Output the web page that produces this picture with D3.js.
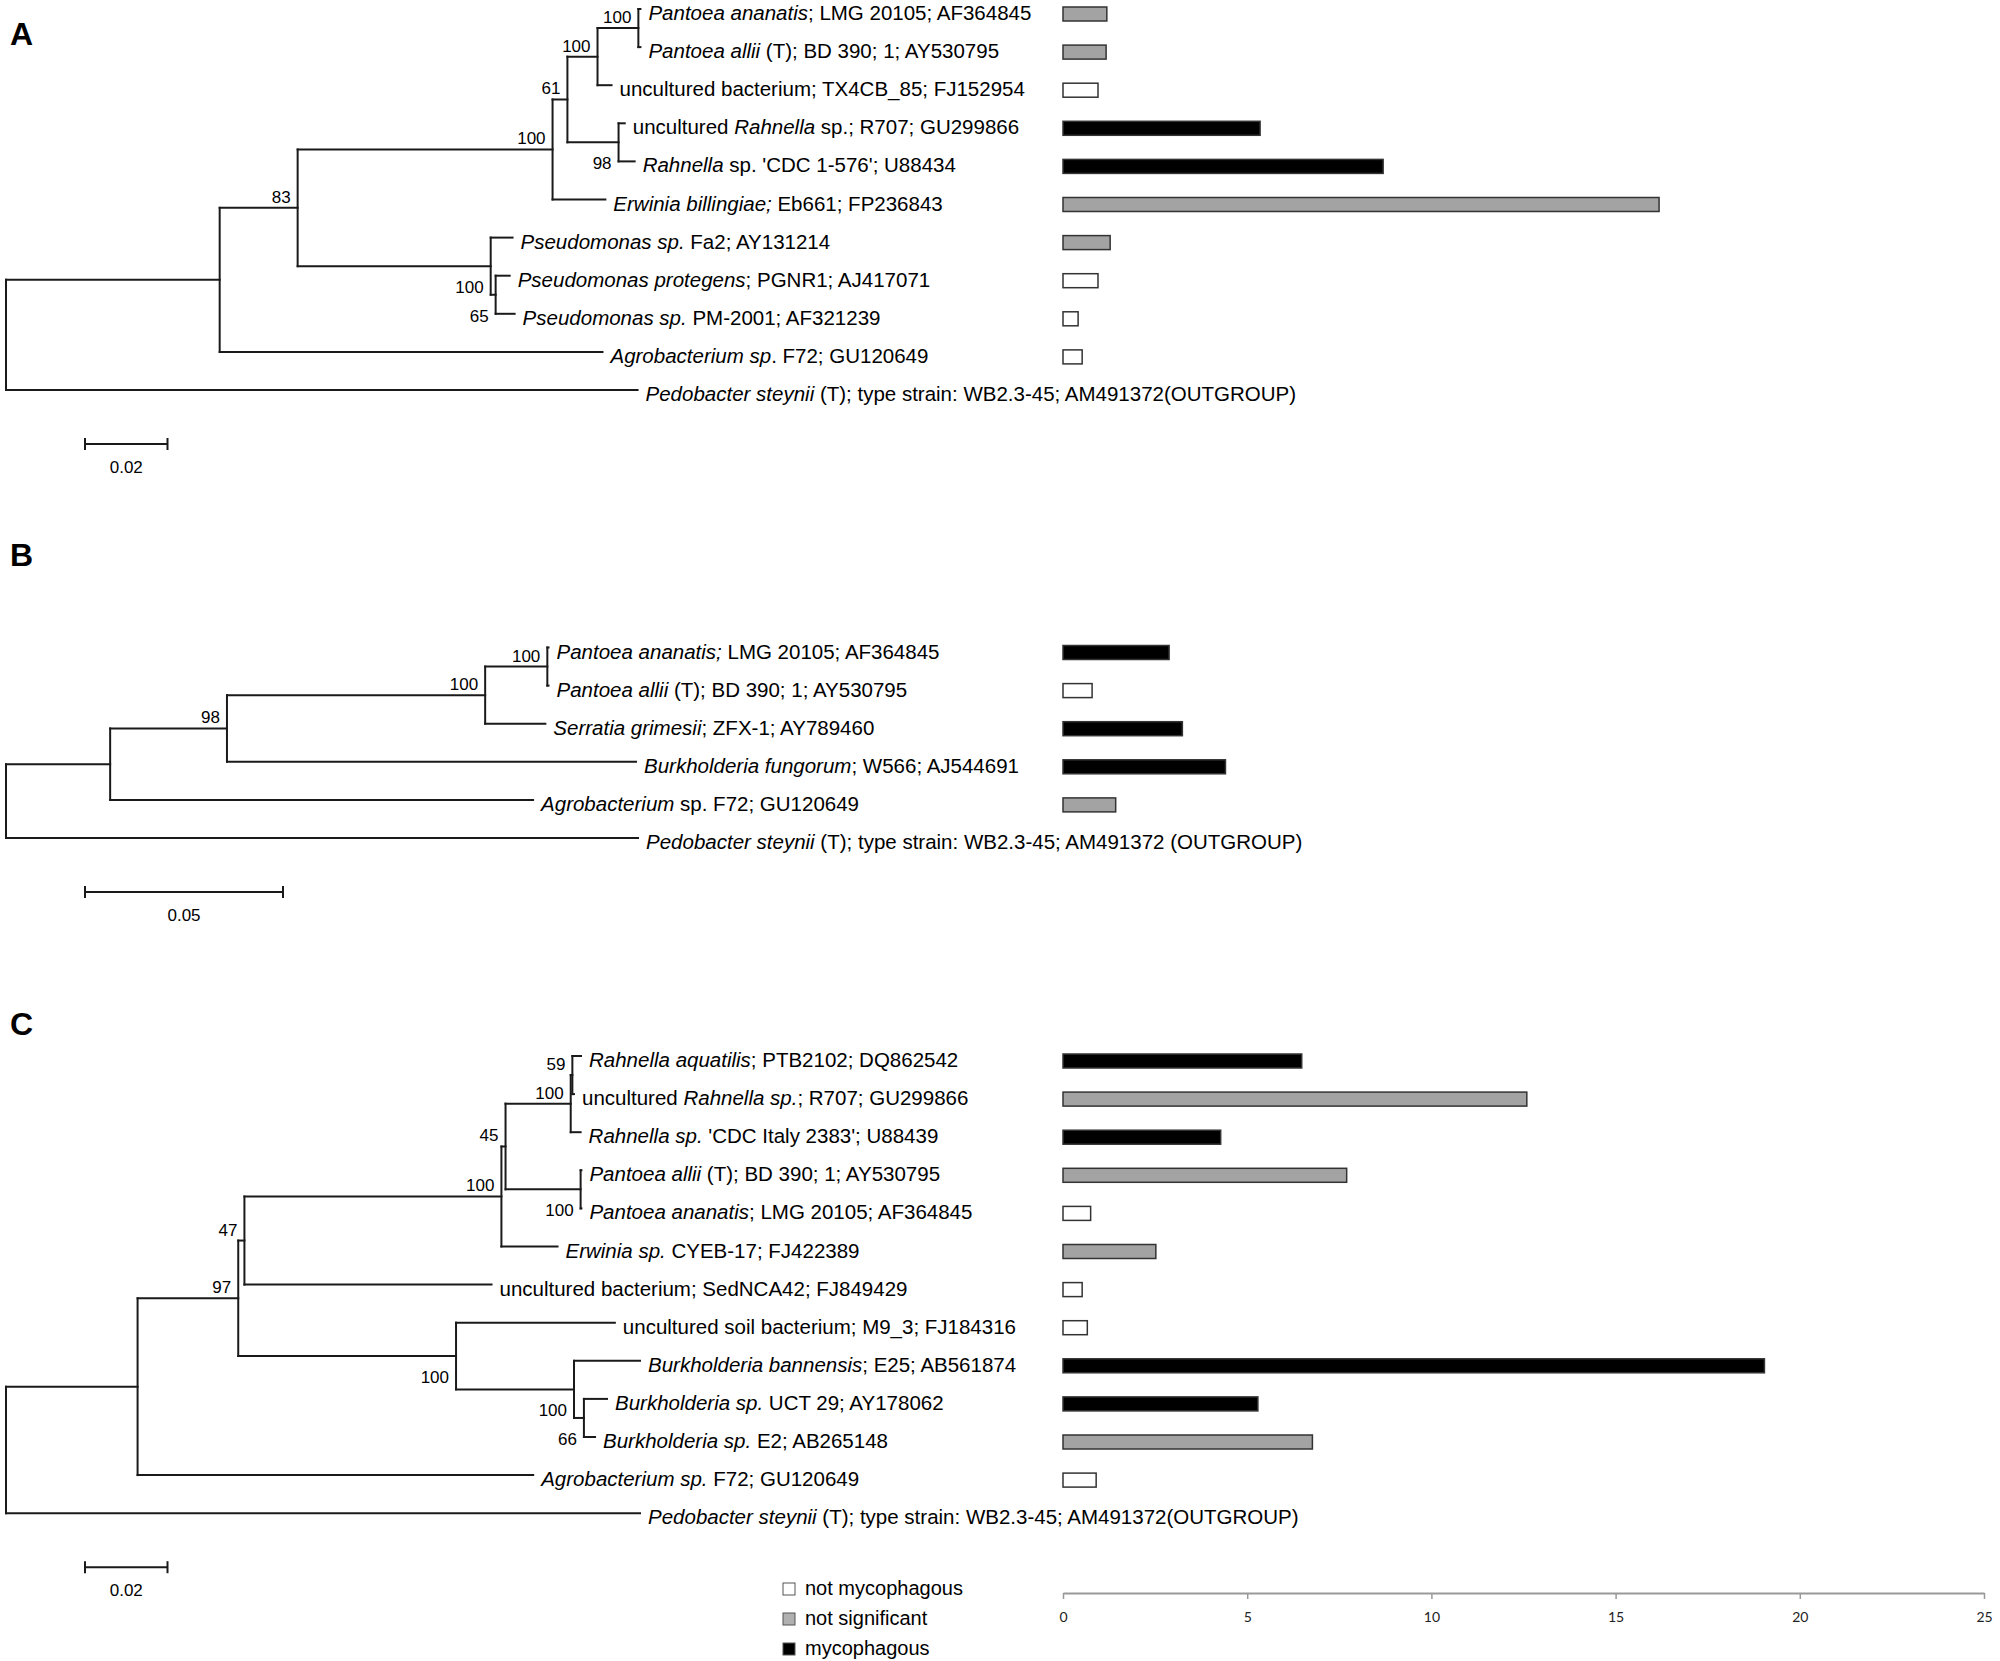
<!DOCTYPE html>
<html>
<head>
<meta charset="utf-8">
<style>
  body { margin: 0; background: #fff; }
  svg { display: block; font-family: "Liberation Sans", Arial, sans-serif; }
  text { white-space: pre; }
</style>
</head>
<body>
<svg width="2000" height="1661"></svg>
<script src="https://d3js.org/d3.v7.min.js"></script>
<script>
// trees in newick form: tips are row numbers, internal labels are bootstrap values
var treeA = "(((((((0:0.0005,1:0.0005)100:0.0099,2:0.0034)100:0.0073,(3:0.0015,4:0.0039)98:0.0124)61:0.0036,5:0.0128)100:0.0618,(6:0.0053,(7:0.0034,8:0.0046)65:0.0012)100:0.0468)83:0.0189,9:0.0928):0.0518,10:0.1531);";
var treeB = "(((((0:0.0003,1:0.0003)100:0.0157,2:0.0152)100:0.0652,3:0.1033)98:0.0295,4:0.1068):0.0263,5:0.1596);";
var treeC = "((((((((0:0.0021,1:0.0004)59:0.0004,2:0.0024)100:0.0158,(3:0.0002,4:0.0002)100:0.0182)45:0.0010,5:0.0136)100:0.0623,6:0.0599)47:0.0015,(7:0.0385,(8:0.0160,(9:0.0056,10:0.0027)66:0.0024)100:0.0286)100:0.0528)97:0.0244,11:0.0959):0.0319,12:0.1537);";

var labelsA = [
  "<i>Pantoea ananatis</i>; LMG 20105; AF364845",
  "<i>Pantoea allii</i> (T); BD 390; 1; AY530795",
  "uncultured bacterium; TX4CB_85; FJ152954",
  "uncultured <i>Rahnella</i> sp.; R707; GU299866",
  "<i>Rahnella</i> sp. 'CDC 1-576'; U88434",
  "<i>Erwinia billingiae;</i> Eb661; FP236843",
  "<i>Pseudomonas sp.</i> Fa2; AY131214",
  "<i>Pseudomonas protegens</i>; PGNR1; AJ417071",
  "<i>Pseudomonas sp.</i> PM-2001; AF321239",
  "<i>Agrobacterium sp</i>. F72; GU120649",
  "<i>Pedobacter steynii</i> (T); type strain: WB2.3-45; AM491372(OUTGROUP)"
];
var labelsB = [
  "<i>Pantoea ananatis;</i> LMG 20105; AF364845",
  "<i>Pantoea allii</i> (T); BD 390; 1; AY530795",
  "<i>Serratia grimesii</i>; ZFX-1; AY789460",
  "<i>Burkholderia fungorum</i>; W566; AJ544691",
  "<i>Agrobacterium</i> sp. F72; GU120649",
  "<i>Pedobacter steynii</i> (T); type strain: WB2.3-45; AM491372 (OUTGROUP)"
];
var labelsC = [
  "<i>Rahnella aquatilis</i>; PTB2102; DQ862542",
  "uncultured <i>Rahnella sp.</i>; R707; GU299866",
  "<i>Rahnella sp.</i> 'CDC Italy 2383'; U88439",
  "<i>Pantoea allii</i> (T); BD 390; 1; AY530795",
  "<i>Pantoea ananatis</i>; LMG 20105; AF364845",
  "<i>Erwinia sp.</i> CYEB-17; FJ422389",
  "uncultured bacterium; SedNCA42; FJ849429",
  "uncultured soil bacterium; M9_3; FJ184316",
  "<i>Burkholderia bannensis</i>; E25; AB561874",
  "<i>Burkholderia sp.</i> UCT 29; AY178062",
  "<i>Burkholderia sp.</i> E2; AB265148",
  "<i>Agrobacterium sp.</i> F72; GU120649",
  "<i>Pedobacter steynii</i> (T); type strain: WB2.3-45; AM491372(OUTGROUP)"
];

// bar values and class (0 not mycophagous, 1 not significant, 2 mycophagous)
var valuesA = [1.19, 1.17, 0.95, 5.35, 8.69, 16.18, 1.28, 0.95, 0.41, 0.52, null];
var classA  = [1, 1, 0, 2, 2, 1, 1, 0, 0, 0, null];
var valuesB = [2.88, 0.79, 3.24, 4.41, 1.43, null];
var classB  = [2, 0, 2, 2, 1, null];
var valuesC = [6.48, 12.59, 4.28, 7.70, 0.75, 2.52, 0.52, 0.66, 19.04, 5.29, 6.77, 0.90, null];
var classC  = [2, 1, 2, 1, 0, 1, 0, 0, 2, 2, 1, 0, null];

var categories = ["not mycophagous", "not significant", "mycophagous"];
var barTicks = [0, 5, 10, 15, 20, 25];

var fills = ["#ffffff", "#a3a3a3", "#000000"];

var svg = d3.select("svg");
var rowStep = 38.1;

var panels = [
  {letter: "A", letterY: 45, tree: treeA, labels: labelsA, values: valuesA, cls: classA, top: 9, unit: 0.02, unitPx: 82.5, unitLabel: "0.02"},
  {letter: "B", letterY: 566, tree: treeB, labels: labelsB, values: valuesB, cls: classB, top: 647.5, unit: 0.05, unitPx: 198, unitLabel: "0.05"},
  {letter: "C", letterY: 1035, tree: treeC, labels: labelsC, values: valuesC, cls: classC, top: 1056, unit: 0.02, unitPx: 82.5, unitLabel: "0.02"}
];

var xb = d3.scaleLinear().domain([0, 25]).range([1063, 1984]);

function parseNewick(s) {
  var i = 0;
  function node() {
    var n = {};
    if (s[i] === "(") {
      n.children = [];
      i++;
      n.children.push(node());
      while (s[i] === ",") { i++; n.children.push(node()); }
      i++;
    }
    var m = /^[^:,();]*/.exec(s.slice(i))[0];
    i += m.length;
    n.name = m;
    n.length = 0;
    if (s[i] === ":") {
      i++;
      var l = /^[0-9.eE-]+/.exec(s.slice(i))[0];
      i += l.length;
      n.length = +l;
    }
    return n;
  }
  return node();
}

function richText(sel, str) {
  str.split(/(<i>.*?<\/i>)/).forEach(function(part) {
    if (!part) return;
    var it = /^<i>(.*)<\/i>$/.exec(part);
    sel.append("tspan")
      .attr("font-style", it ? "italic" : null)
      .text(it ? it[1] : part);
  });
}

panels.forEach(function(p) {
  var g = svg.append("g");
  var n = p.labels.length;
  var x = d3.scaleLinear().domain([0, p.unit]).range([6, 6 + p.unitPx]);
  var y = d3.scaleLinear().domain([0, n - 1]).range([p.top, p.top + (n - 1) * rowStep]);

  g.append("text")
    .attr("x", 10).attr("y", p.letterY)
    .attr("font-size", 32).attr("font-weight", "bold")
    .text(p.letter);

  var root = d3.hierarchy(parseNewick(p.tree));
  root.eachBefore(function(d) { d.dist = d.parent ? d.parent.dist + d.data.length : 0; });
  root.eachAfter(function(d) {
    if (d.children) d.yy = (d.children[0].yy + d.children[d.children.length - 1].yy) / 2;
    else d.yy = y(+d.data.name);
  });

  var lines = g.append("g").attr("stroke", "#1a1a1a").attr("stroke-width", 2).attr("stroke-linecap", "square");
  root.descendants().forEach(function(d) {
    if (d.parent) {
      lines.append("line")
        .attr("x1", x(d.parent.dist)).attr("x2", x(d.dist))
        .attr("y1", d.yy).attr("y2", d.yy);
    }
    if (d.children) {
      lines.append("line")
        .attr("x1", x(d.dist)).attr("x2", x(d.dist))
        .attr("y1", d.children[0].yy).attr("y2", d.children[d.children.length - 1].yy);
    }
  });

  // bootstrap values, on the outer side of the branch
  root.descendants().filter(function(d) { return d.children && d.parent && d.data.name; })
    .forEach(function(d) {
      var first = d.parent.children[0] === d;
      g.append("text")
        .attr("x", x(d.dist) - 7)
        .attr("y", first ? d.yy - 5 : d.yy + 27)
        .attr("text-anchor", "end")
        .attr("font-size", 17)
        .text(d.data.name);
    });

  // tip labels
  root.leaves().forEach(function(d) {
    var t = g.append("text")
      .attr("x", x(d.dist) + 8)
      .attr("y", d.yy + 11)
      .attr("font-size", 20.5);
    richText(t, p.labels[+d.data.name]);
  });

  // bars
  g.selectAll(".bar")
    .data(p.values.map(function(v, i) { return {v: v, c: p.cls[i], i: i}; }).filter(function(d) { return d.v != null; }))
    .enter().append("rect")
      .attr("class", "bar")
      .attr("x", xb(0))
      .attr("y", function(d) { return y(d.i) - 2; })
      .attr("width", function(d) { return xb(d.v) - xb(0); })
      .attr("height", 14)
      .attr("fill", function(d) { return fills[d.c]; })
      .attr("stroke", "#333")
      .attr("stroke-width", 1.5);

  // scale bar
  var sy = y(n - 1) + 54;
  var sb = g.append("g").attr("stroke", "#1a1a1a").attr("stroke-width", 2);
  sb.append("line").attr("x1", x(0) + 79).attr("x2", x(p.unit) + 79).attr("y1", sy).attr("y2", sy);
  [0, p.unit].forEach(function(u) {
    sb.append("line").attr("x1", x(u) + 79).attr("x2", x(u) + 79).attr("y1", sy - 6).attr("y2", sy + 6);
  });
  g.append("text")
    .attr("x", (x(0) + x(p.unit)) / 2 + 79)
    .attr("y", sy + 29)
    .attr("text-anchor", "middle")
    .attr("font-size", 17)
    .text(p.unitLabel);
});

// value axis
var axis = svg.append("g")
  .attr("transform", "translate(0,1593)")
  .call(d3.axisBottom(xb).tickValues(barTicks).tickSize(6).tickSizeOuter(0).tickPadding(13));
axis.select(".domain").attr("stroke", "#999").attr("stroke-width", 2);
axis.selectAll(".tick line").attr("stroke", "#999").attr("stroke-width", 1.5);
axis.selectAll(".tick text").attr("font-family", "Lato, 'Open Sans', sans-serif").attr("font-size", 14).attr("fill", "#222");

// legend
var leg = svg.append("g").attr("transform", "translate(783,1583)");
categories.forEach(function(c, i) {
  var row = leg.append("g").attr("transform", "translate(0," + (i * 30) + ")");
  row.append("rect").attr("width", 12).attr("height", 12)
    .attr("fill", i === 1 ? "#b0b0b0" : fills[i]).attr("stroke", "#555").attr("stroke-width", 1);
  row.append("text").attr("x", 22).attr("y", 12).attr("font-size", 20).text(c);
});
</script>
</body>
</html>
